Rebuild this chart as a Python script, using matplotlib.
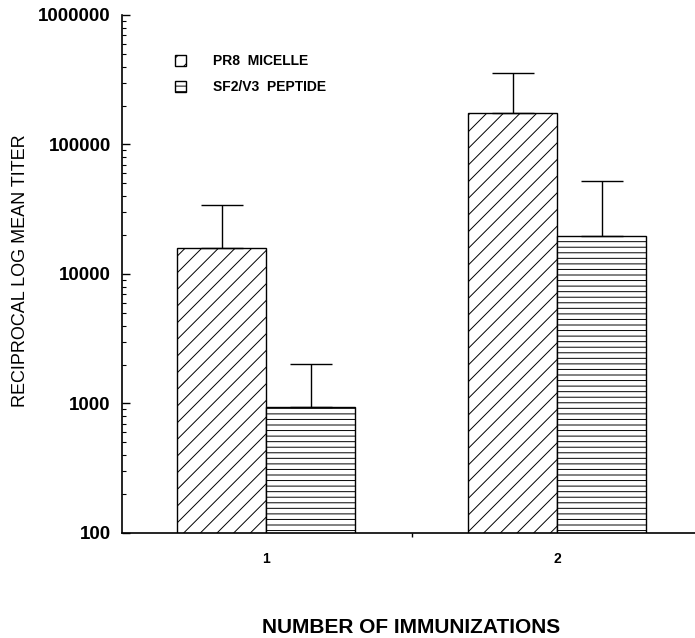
import numpy as np
import matplotlib.pyplot as plt
from matplotlib.patches import Patch
from matplotlib.ticker import FixedLocator, NullFormatter

immunizations = ["1", "2"]
pr8_micelle = [16000, 175000]
pr8_upper = [34000, 357000]
peptide = [940, 19600]
peptide_upper = [2020, 52000]

plt.rcParams['font.family'] = ['Liberation Sans', 'DejaVu Sans']
plt.rcParams['hatch.linewidth'] = 0.7

fig = plt.figure(figsize=(6.95, 6.38), dpi=100)
ax = fig.add_axes([0.1755, 0.1646, 0.8245, 0.8119])

x = np.arange(1, len(immunizations) + 1)
w = 0.306

err1 = [np.zeros(len(x)), np.array(pr8_upper) - np.array(pr8_micelle)]
err2 = [np.zeros(len(x)), np.array(peptide_upper) - np.array(peptide)]

ax.bar(x - w / 2, pr8_micelle, w, color="white", edgecolor="black", hatch="//",
       linewidth=1, yerr=err1, capsize=15, error_kw=dict(elinewidth=1, capthick=1, ecolor="black"))
ax.bar(x + w / 2, peptide, w, color="white", edgecolor="black", hatch="---",
       linewidth=1, yerr=err2, capsize=15, error_kw=dict(elinewidth=1, capthick=1, ecolor="black"))

ax.set_yscale("log")
ax.set_ylim(100, 1e6)
ax.set_xlim(0.505, 2.474)

ax.set_yticks([100, 1000, 10000, 100000, 1000000])
ax.set_yticklabels(["100", "1000", "10000", "100000", "1000000"], fontsize=13.5, fontweight="bold")
ax.yaxis.set_minor_formatter(NullFormatter())
ax.tick_params(axis="y", which="major", direction="in", length=6, width=1, pad=8)
ax.tick_params(axis="y", which="minor", direction="in", length=3, width=0.8)

ax.set_xticks(x)
ax.set_xticklabels(immunizations, fontsize=10, fontweight="bold")
ax.xaxis.set_minor_locator(FixedLocator([1.5]))
ax.tick_params(axis="x", which="major", length=0, pad=14)
ax.tick_params(axis="x", which="minor", direction="out", length=3, width=1)

for s in ["top", "right"]:
    ax.spines[s].set_visible(False)
for s in ["left", "bottom"]:
    ax.spines[s].set_linewidth(1.2)

fig.text(0.029, 0.575, "RECIPROCAL LOG MEAN TITER", fontsize=13, rotation=90,
         ha="center", va="center")
fig.text(0.592, 0.017, "NUMBER OF IMMUNIZATIONS", fontsize=15, fontweight="bold",
         ha="center", va="center", family=['Liberation Sans Narrow', 'Liberation Sans', 'DejaVu Sans'])

handles = [Patch(facecolor="white", edgecolor="black", hatch="//", label="PR8  MICELLE"),
           Patch(facecolor="white", edgecolor="black", hatch="---", label="SF2/V3  PEPTIDE")]
ax.legend(handles=handles, loc="upper left", bbox_to_anchor=(0.07, 0.948), frameon=False,
          handlelength=0.8, handleheight=0.8, handletextpad=2.0, labelspacing=0.85,
          prop=dict(size=10, weight="bold"))

fig.savefig("out.png", dpi=100)
